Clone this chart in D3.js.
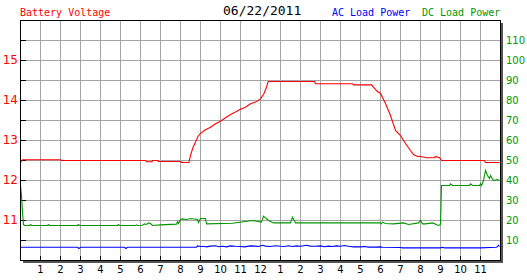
<!DOCTYPE html>
<html>
<head>
<meta charset="utf-8">
<script src="https://cdn.jsdelivr.net/npm/d3@7"></script>
<style>
  body { margin: 0; background: #ffffff; }
  svg { display: block; }
  .lbl { font-family: "DejaVu Sans", sans-serif; }
  .mono { font-family: "DejaVu Sans Mono", monospace; }
</style>
</head>
<body>
<div id="chart"></div>
<script>
// tick labels
var hourTicks = [1, 2, 3, 4, 5, 6, 7, 8, 9, 10, 11, 12, 13, 14, 15, 16, 17, 18, 19, 20, 21, 22, 23];
var hourLabels = ["1", "2", "3", "4", "5", "6", "7", "8", "9", "10", "11", "12",
                  "1", "2", "3", "4", "5", "6", "7", "8", "9", "10", "11"];
var voltTicks = [11, 12, 13, 14, 15];
var powerTicks = [10, 20, 30, 40, 50, 60, 70, 80, 90, 100, 110];

// battery voltage [hour, volts]
var voltData = [
    [0, 12.45], [0.1, 12.52], [2.0, 12.52], [2.05, 12.5], [6.25, 12.5], [6.3, 12.47],
    [6.58, 12.47], [6.6, 12.5], [6.85, 12.5], [6.9, 12.475], [8.0, 12.475], [8.05, 12.45],
    [8.42, 12.45], [8.5, 12.625], [8.62, 12.82], [8.75, 12.96], [8.87, 13.1], [9.0, 13.18],
    [9.25, 13.27], [9.5, 13.33], [9.75, 13.42], [10.0, 13.48], [10.25, 13.57], [10.5, 13.65],
    [10.75, 13.71], [11.0, 13.78], [11.25, 13.83], [11.5, 13.92], [11.75, 13.96], [12.0, 14.04],
    [12.17, 14.17], [12.3, 14.33], [12.37, 14.46], [12.4, 14.475], [14.7, 14.475], [14.75, 14.42],
    [16.6, 14.42], [16.65, 14.39], [17.55, 14.39], [17.67, 14.32], [17.83, 14.23], [18.0, 14.175],
    [18.25, 13.925], [18.5, 13.625], [18.75, 13.25], [19.0, 13.125], [19.25, 12.925], [19.5, 12.75],
    [19.65, 12.65], [19.85, 12.6], [20.0, 12.6], [20.3, 12.57], [20.7, 12.57], [20.75, 12.6],
    [20.95, 12.57], [21.05, 12.5], [23.2, 12.5], [23.25, 12.45], [23.95, 12.45]
];

// AC load power [hour, watts]
var acData = [
    [0, 6.6], [2.85, 6.6], [2.92, 6.0], [3.0, 6.6], [5.2, 6.6], [5.27, 6.0], [5.35, 6.6],
    [8.8, 6.6], [8.85, 7.3], [9.0, 7.0], [9.2, 7.0], [9.3, 6.8], [9.5, 7.2], [9.75, 7.4],
    [9.9, 6.9], [10.1, 7.1], [10.3, 6.8], [10.5, 7.3], [10.75, 7.1], [11.0, 7.0], [11.2, 6.8],
    [11.5, 7.3], [11.75, 7.2], [11.9, 7.0], [12.1, 7.6], [12.25, 7.2], [12.5, 7.0], [12.75, 7.4],
    [13.0, 7.1], [13.2, 7.0], [13.4, 7.4], [13.6, 7.0], [13.8, 7.3], [14.0, 7.1], [14.3, 7.6],
    [14.5, 7.2], [14.75, 7.1], [15.0, 7.3], [15.2, 6.9], [15.4, 7.2], [15.6, 7.0], [15.8, 7.3],
    [16.0, 7.1], [16.2, 7.5], [16.4, 7.1], [16.5, 7.0], [16.65, 6.8], [17.0, 6.8], [17.2, 7.0],
    [17.4, 6.7], [17.75, 6.7], [18.0, 6.8], [18.1, 6.6], [19.0, 6.5], [19.1, 6.3], [21.0, 6.3],
    [21.1, 6.6], [21.2, 6.3], [23.0, 6.3], [23.5, 6.5], [23.8, 6.6], [23.9, 7.6], [23.95, 7.0]
];

// DC load power [hour, watts]
var dcData = [
    [0, 37.5], [0.05, 32.5], [0.1, 24], [0.15, 18], [0.2, 17.5], [0.45, 17.5], [0.5, 18],
    [0.55, 17.5], [1.35, 17.5], [1.4, 18], [1.45, 17.5], [2.85, 17.5], [2.9, 18], [2.95, 17.5],
    [4.85, 17.5], [4.9, 18], [4.95, 17.5], [5.75, 17.5], [5.8, 17.8], [5.85, 17.5], [6.1, 17.6],
    [6.2, 18.3], [6.3, 18], [6.4, 18.8], [6.5, 18.5], [6.6, 17.5], [7.0, 17.8], [7.8, 18.2],
    [7.85, 19.5], [7.9, 18.5], [8.0, 20.5], [8.1, 20.8], [8.3, 20.5], [8.5, 21], [8.85, 20.5],
    [8.9, 19], [9.0, 21], [9.25, 21], [9.3, 18.3], [10.6, 18.6], [11.6, 20], [12.05, 19.2],
    [12.15, 22.2], [12.4, 20], [12.65, 18.8], [13.5, 18.8], [13.6, 21.7], [13.75, 18.8],
    [18.0, 18.8], [18.05, 18.3], [18.1, 19.2], [18.25, 18.5], [18.65, 18.3], [19.15, 18.8],
    [19.4, 18], [19.9, 18.8], [20.0, 20], [20.1, 18.3], [20.25, 18.3], [20.6, 18.8],
    [20.9, 17.5], [21.0, 18], [21.05, 37.5], [21.45, 37.5], [21.5, 38.3], [21.6, 37.5],
    [22.45, 37.5], [22.5, 38.3], [22.6, 37.5], [22.95, 37.5], [23.0, 38.3], [23.05, 37.5],
    [23.15, 40], [23.25, 45], [23.35, 42.5], [23.45, 41], [23.5, 42.5], [23.65, 40],
    [23.85, 40.5], [23.95, 40]
];

var RED = "#ff0000";
var GREEN = "#009600";
var BLUE = "#0000ff";
var GRID = "#a4a4a4";

var W = 527, H = 280;
var L = 20, R = 500, T = 20, B = 260;

var svg = d3.select("#chart").append("svg")
    .attr("width", W)
    .attr("height", H);

svg.append("rect").attr("width", W).attr("height", H).attr("fill", "#ffffff");

var x = d3.scaleLinear().domain([0, 24]).range([L, R]);
var yV = d3.scaleLinear().domain([10, 16]).range([B, T]);
var yP = d3.scaleLinear().domain([0, 120]).range([B, T]);

var g = svg.append("g").attr("transform", "translate(0.5,0.5)");

// grid lines
g.append("g").selectAll("line")
    .data(hourTicks)
    .enter().append("line")
    .attr("x1", function(d) { return x(d); })
    .attr("x2", function(d) { return x(d); })
    .attr("y1", T)
    .attr("y2", B)
    .attr("stroke", GRID)
    .attr("shape-rendering", "crispEdges");

g.append("g").selectAll("line")
    .data(powerTicks)
    .enter().append("line")
    .attr("x1", L)
    .attr("x2", R)
    .attr("y1", function(d) { return yP(d); })
    .attr("y2", function(d) { return yP(d); })
    .attr("stroke", GRID)
    .attr("shape-rendering", "crispEdges");

// little black ticks inside the frame
g.append("g").selectAll("line")
    .data(powerTicks)
    .enter().append("line")
    .attr("x1", L)
    .attr("x2", L + 5)
    .attr("y1", function(d) { return yP(d); })
    .attr("y2", function(d) { return yP(d); })
    .attr("stroke", "#000")
    .attr("shape-rendering", "crispEdges");

g.append("g").selectAll("line")
    .data(hourTicks)
    .enter().append("line")
    .attr("x1", function(d) { return x(d); })
    .attr("x2", function(d) { return x(d); })
    .attr("y1", B - 5)
    .attr("y2", B)
    .attr("stroke", "#000")
    .attr("shape-rendering", "crispEdges");

// series
var lineV = d3.line()
    .x(function(d) { return x(d[0]); })
    .y(function(d) { return yV(d[1]); });
var lineP = d3.line()
    .x(function(d) { return x(d[0]); })
    .y(function(d) { return yP(d[1]); });

g.append("path").datum(acData)
    .attr("d", lineP).attr("fill", "none").attr("stroke", BLUE).attr("stroke-width", 1.1);
g.append("path").datum(dcData)
    .attr("d", lineP).attr("fill", "none").attr("stroke", GREEN).attr("stroke-width", 1.1);
g.append("path").datum(voltData)
    .attr("d", lineV).attr("fill", "none").attr("stroke", RED).attr("stroke-width", 1.1);

// frame + shadow
g.append("line").attr("x1", R + 1.5).attr("x2", R + 1.5).attr("y1", T + 2).attr("y2", B + 2)
    .attr("stroke", "#555").attr("stroke-width", 2).attr("shape-rendering", "crispEdges");
g.append("line").attr("x1", L + 2).attr("x2", R + 2).attr("y1", B + 1.5).attr("y2", B + 1.5)
    .attr("stroke", "#555").attr("stroke-width", 2).attr("shape-rendering", "crispEdges");
g.append("rect")
    .attr("x", L).attr("y", T)
    .attr("width", R - L).attr("height", B - T)
    .attr("fill", "none").attr("stroke", "#000")
    .attr("shape-rendering", "crispEdges");

// axes (labels only)
var axV = svg.append("g")
    .attr("transform", "translate(18,0)")
    .call(d3.axisLeft(yV).tickValues(voltTicks).tickSize(0).tickPadding(0).tickFormat(d3.format("d")));
axV.select(".domain").remove();
axV.selectAll("text").attr("class", "lbl").attr("fill", RED).attr("font-size", "12px");

var axP = svg.append("g")
    .attr("transform", "translate(506,0)")
    .call(d3.axisRight(yP).tickValues(powerTicks).tickSize(0).tickPadding(0));
axP.select(".domain").remove();
axP.selectAll("text").attr("class", "lbl").attr("fill", GREEN).attr("font-size", "10px");

var axX = svg.append("g")
    .attr("transform", "translate(0,266)")
    .call(d3.axisBottom(x).tickValues(hourTicks).tickSize(0).tickPadding(0)
        .tickFormat(function(d, i) { return hourLabels[i]; }));
axX.select(".domain").remove();
axX.selectAll("text").attr("class", "lbl").attr("fill", "#000").attr("font-size", "10px");

// titles
svg.append("text").attr("class", "mono").attr("x", 20).attr("y", 16)
    .attr("font-size", "10px").attr("fill", RED).text("Battery Voltage");
svg.append("text").attr("class", "mono").attr("x", 223).attr("y", 15)
    .attr("font-size", "13px").attr("fill", "#000").text("06/22/2011");
svg.append("text").attr("class", "mono").attr("x", 332).attr("y", 16)
    .attr("font-size", "10px").attr("fill", BLUE).text("AC Load Power");
svg.append("text").attr("class", "mono").attr("x", 422).attr("y", 16)
    .attr("font-size", "10px").attr("fill", GREEN).text("DC Load Power");
</script>
</body>
</html>
